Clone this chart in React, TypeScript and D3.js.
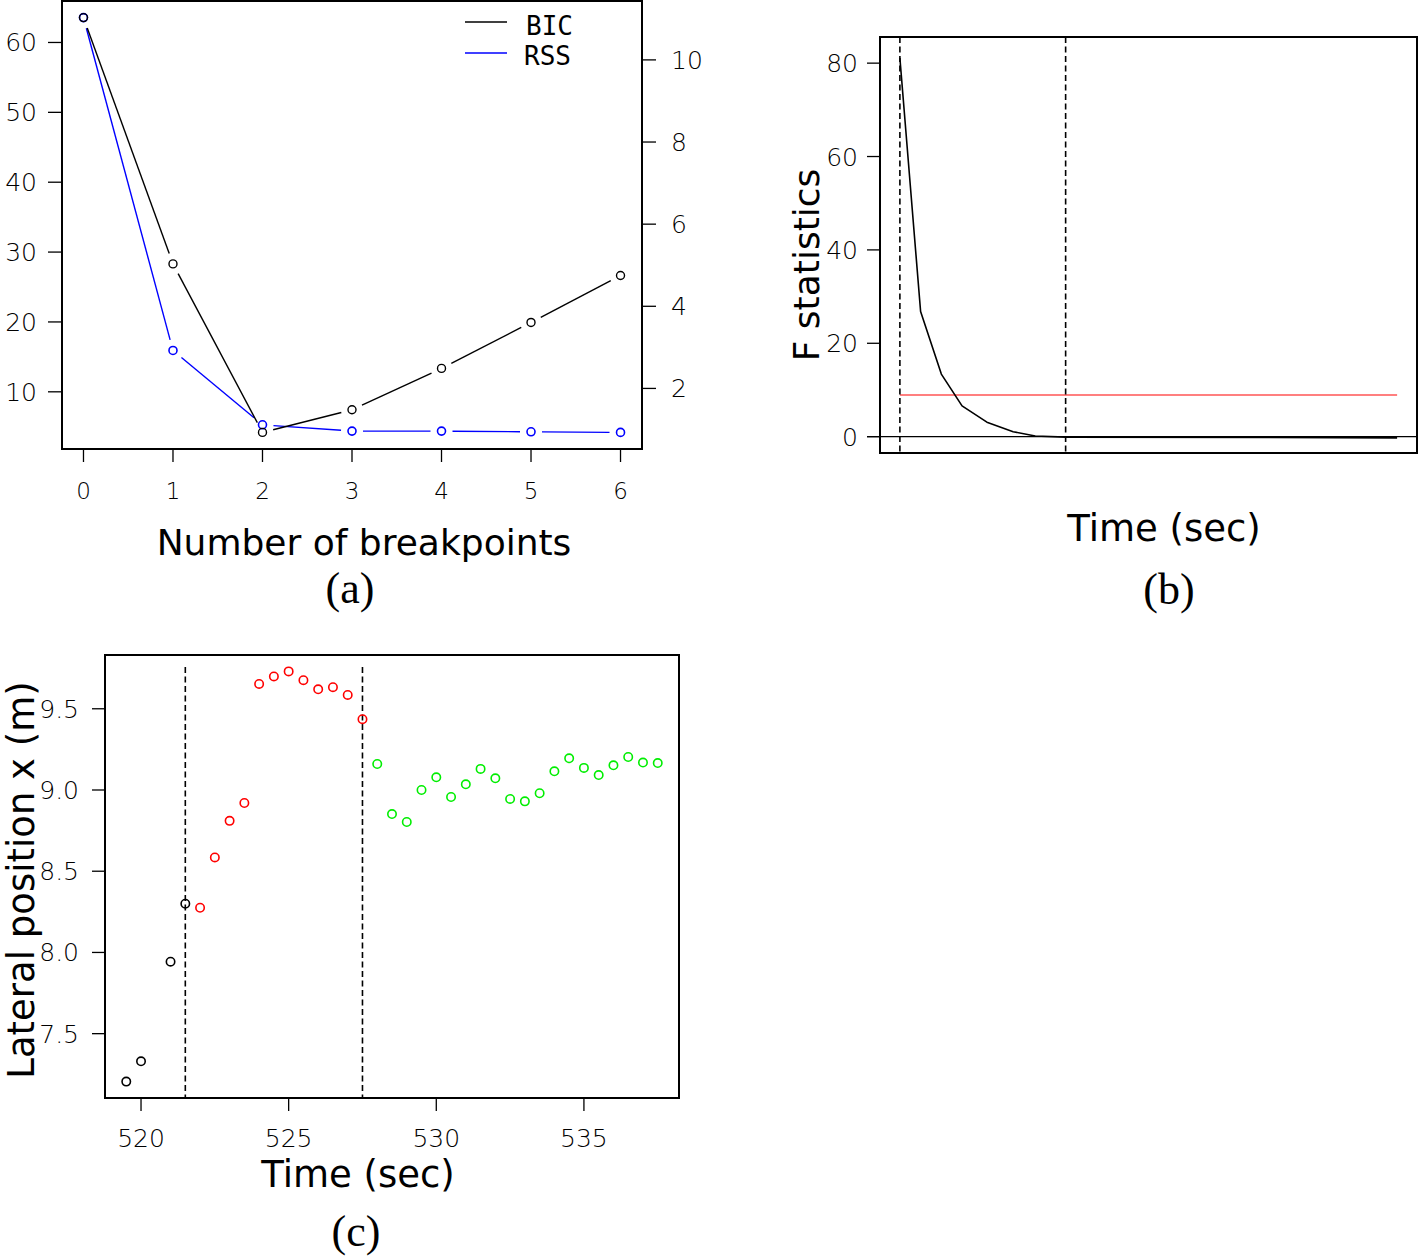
import React from "react";
import * as d3 from "d3";

// ---------- Panel (a): breakpoints ----------
const breakpoints = [0, 1, 2, 3, 4, 5, 6];
const bicValues = [63.56, 28.31, 4.19, 7.43, 13.35, 19.93, 26.65];
const rssValues = [11.03, 2.925, 1.114, 0.961, 0.961, 0.944, 0.929];
const leftTicksA = [10, 20, 30, 40, 50, 60];
const rightTicksA = [2, 4, 6, 8, 10];
const legendLabels = ["BIC", "RSS"];

// ---------- Panel (b): F statistics ----------
const fTimes = [521.5, 522.25, 523.0, 523.75, 524.65, 525.6, 526.4, 527.5, 539.5];
const fValues = [81.1, 26.8, 13.4, 6.6, 3.1, 1.07, 0.15, -0.1, -0.25];
const fThreshold = 8.94;
const fTicks = [0, 20, 40, 60, 80];
const fYDomain = [-3.5, 85.6];
const breakTimes = [521.5, 527.5];

// ---------- Panel (c): lateral position ----------
const lateralTimes = [
  519.5, 520.0, 521.0, 521.5,
  522.0, 522.5, 523.0, 523.5, 524.0, 524.5, 525.0, 525.5, 526.0, 526.5, 527.0, 527.5,
  528.0, 528.5, 529.0, 529.5, 530.0, 530.5, 531.0, 531.5, 532.0, 532.5, 533.0, 533.5,
  534.0, 534.5, 535.0, 535.5, 536.0, 536.5, 537.0, 537.5,
];
const lateralValues = [
  7.205, 7.33, 7.943, 8.3,
  8.275, 8.585, 8.81, 8.92, 9.653, 9.699, 9.73, 9.676, 9.62, 9.633, 9.585, 9.436,
  9.16, 8.852, 8.803, 9.0, 9.078, 8.957, 9.035, 9.13, 9.072, 8.945, 8.93, 8.98,
  9.115, 9.195, 9.136, 9.092, 9.152, 9.203, 9.169, 9.166,
];
const lateralXTicks = [520, 525, 530, 535];
const lateralYTicks = [7.5, 8.0, 8.5, 9.0, 9.5];
const segmentColors = ["#000000", "#ff0000", "#00ee00"];

const TICK_FONT = "'DejaVu Sans', sans-serif";
const TITLE_FONT = "'DejaVu Sans', Verdana, sans-serif";
const SERIF_FONT = "'Liberation Serif', 'Times New Roman', serif";

function padExtent(vals: number[]): [number, number] {
  const [lo, hi] = d3.extent(vals) as [number, number];
  const p = (hi - lo) * 0.04;
  return [lo - p, hi + p];
}

// line segments with gaps around points (R type="b")
function gappedSegments(pts: [number, number][], gap: number) {
  const segs: { x1: number; y1: number; x2: number; y2: number }[] = [];
  for (let i = 0; i < pts.length - 1; i++) {
    const [ax, ay] = pts[i];
    const [bx, by] = pts[i + 1];
    const dx = bx - ax, dy = by - ay;
    const len = Math.hypot(dx, dy);
    if (len <= 2 * gap) continue;
    const ux = dx / len, uy = dy / len;
    segs.push({ x1: ax + ux * gap, y1: ay + uy * gap, x2: bx - ux * gap, y2: by - uy * gap });
  }
  return segs;
}

function PanelA() {
  const L = 62, R = 642, T = 1, B = 449;
  const x = d3.scaleLinear().domain(padExtent(breakpoints)).range([L, R]);
  const yL = d3.scaleLinear().domain(padExtent(bicValues)).range([B, T]);
  const yR = d3.scaleLinear().domain(padExtent(rssValues)).range([B, T]);
  const bicPts = breakpoints.map((b, i) => [x(b), yL(bicValues[i])] as [number, number]);
  const rssPts = breakpoints.map((b, i) => [x(b), yR(rssValues[i])] as [number, number]);
  const gap = 11;
  return (
    <g>
      {gappedSegments(rssPts, gap).map((s, i) => (
        <line key={"rl" + i} {...s} stroke="#0000ff" strokeWidth={1.4} />
      ))}
      {gappedSegments(bicPts, gap).map((s, i) => (
        <line key={"bl" + i} {...s} stroke="#000" strokeWidth={1.4} />
      ))}
      {rssPts.map(([cx, cy], i) => (
        <circle key={"rc" + i} cx={cx} cy={cy} r={4} fill="none" stroke="#0000ff" strokeWidth={1.6} />
      ))}
      {bicPts.map(([cx, cy], i) => (
        <circle key={"bc" + i} cx={cx} cy={cy} r={4} fill="none" stroke="#000" strokeWidth={1.4} />
      ))}
      <rect x={L} y={T} width={R - L} height={B - T} fill="none" stroke="#000" strokeWidth={2} />
      {/* x axis */}
      {breakpoints.map((b) => (
        <g key={"xt" + b}>
          <line x1={x(b)} x2={x(b)} y1={B} y2={B + 13} stroke="#000" strokeWidth={1.3} />
          <text x={x(b)} y={499} textAnchor="middle" fontFamily={TICK_FONT} fontWeight={200} fontSize={23}>
            {b}
          </text>
        </g>
      ))}
      {/* left axis */}
      {leftTicksA.map((v) => (
        <g key={"lt" + v}>
          <line x1={L - 14} x2={L} y1={yL(v)} y2={yL(v)} stroke="#000" strokeWidth={1.3} />
          <text x={37} y={yL(v)} dy="0.36em" textAnchor="end" fontFamily={TICK_FONT} fontWeight={200} fontSize={25}>
            {v}
          </text>
        </g>
      ))}
      {/* right axis */}
      {rightTicksA.map((v) => (
        <g key={"rt" + v}>
          <line x1={R} x2={R + 14} y1={yR(v)} y2={yR(v)} stroke="#000" strokeWidth={1.3} />
          <text x={671} y={yR(v)} dy="0.36em" textAnchor="start" fontFamily={TICK_FONT} fontWeight={200} fontSize={25}>
            {v}
          </text>
        </g>
      ))}
      {/* legend */}
      <line x1={465} x2={507} y1={22} y2={22} stroke="#000" strokeWidth={1.4} />
      <line x1={465} x2={507} y1={53} y2={53} stroke="#0000ff" strokeWidth={1.4} />
      <text x={526} y={35} fontFamily="'DejaVu Sans Mono', monospace" fontWeight={200} fontSize={26}>
        {legendLabels[0]}
      </text>
      <text x={524} y={65} fontFamily="'DejaVu Sans Mono', monospace" fontWeight={200} fontSize={26}>
        {legendLabels[1]}
      </text>
      <text x={364} y={555} textAnchor="middle" fontFamily={TITLE_FONT} fontSize={36}>
        Number of breakpoints
      </text>
      <text x={350} y={603} textAnchor="middle" fontFamily={SERIF_FONT} fontSize={44}>
        (a)
      </text>
    </g>
  );
}

function PanelB() {
  const L = 880, R = 1417, T = 37, B = 453;
  const x = d3.scaleLinear().domain(padExtent(fTimes)).range([L, R]);
  const y = d3.scaleLinear().domain(fYDomain).range([B, T]);
  const line = d3
    .line<number>()
    .x((_, i) => x(fTimes[i]))
    .y((d) => y(d));
  const [t0, t1] = d3.extent(fTimes) as [number, number];
  return (
    <g>
      <line x1={867} x2={R} y1={y(0)} y2={y(0)} stroke="#000" strokeWidth={1.3} />
      <line x1={x(t0)} x2={x(t1)} y1={y(fThreshold)} y2={y(fThreshold)} stroke="#ff7f7f" strokeWidth={2} />
      <path d={line(fValues) || ""} fill="none" stroke="#000" strokeWidth={1.6} strokeLinejoin="round" />
      {breakTimes.map((t) => (
        <line key={"bd" + t} x1={x(t)} x2={x(t)} y1={T} y2={B} stroke="#000" strokeWidth={1.6} strokeDasharray="6,3.5" />
      ))}
      <rect x={L} y={T} width={R - L} height={B - T} fill="none" stroke="#000" strokeWidth={2} />
      {fTicks.map((v) => (
        <g key={"ft" + v}>
          <line x1={L - 13} x2={L} y1={y(v)} y2={y(v)} stroke="#000" strokeWidth={1.3} />
          <text x={858} y={y(v)} dy="0.36em" textAnchor="end" fontFamily={TICK_FONT} fontWeight={200} fontSize={25}>
            {v}
          </text>
        </g>
      ))}
      <text
        transform={`translate(819, 265) rotate(-90)`}
        textAnchor="middle"
        fontFamily={TITLE_FONT}
        fontSize={36}
      >
        F statistics
      </text>
      <text x={1164} y={541} textAnchor="middle" fontFamily={TITLE_FONT} fontSize={37}>
        Time (sec)
      </text>
      <text x={1169} y={604} textAnchor="middle" fontFamily={SERIF_FONT} fontSize={44}>
        (b)
      </text>
    </g>
  );
}

function PanelC() {
  const L = 105, R = 679, T = 655, B = 1098;
  const x = d3.scaleLinear().domain(padExtent(lateralTimes)).range([L, R]);
  const y = d3.scaleLinear().domain(padExtent(lateralValues)).range([B, T]);
  const segOf = (t: number) => breakTimes.filter((b) => t > b).length;
  const fmt = d3.format(".1f");
  return (
    <g>
      {breakTimes.map((t) => (
        <line key={"cd" + t} x1={x(t)} x2={x(t)} y1={667} y2={B} stroke="#000" strokeWidth={1.6} strokeDasharray="6,3.5" />
      ))}
      {lateralTimes.map((t, i) => (
        <circle
          key={"p" + i}
          cx={x(t)}
          cy={y(lateralValues[i])}
          r={4.2}
          fill="none"
          stroke={segmentColors[segOf(t)]}
          strokeWidth={1.6}
        />
      ))}
      <rect x={L} y={T} width={R - L} height={B - T} fill="none" stroke="#000" strokeWidth={2} />
      {lateralXTicks.map((v) => (
        <g key={"cx" + v}>
          <line x1={x(v)} x2={x(v)} y1={B} y2={B + 13} stroke="#000" strokeWidth={1.3} />
          <text x={x(v)} y={1147} textAnchor="middle" fontFamily={TICK_FONT} fontWeight={200} fontSize={25}>
            {v}
          </text>
        </g>
      ))}
      {lateralYTicks.map((v) => (
        <g key={"cy" + v}>
          <line x1={L - 13} x2={L} y1={y(v)} y2={y(v)} stroke="#000" strokeWidth={1.3} />
          <text x={79} y={y(v)} dy="0.36em" textAnchor="end" fontFamily={TICK_FONT} fontWeight={200} fontSize={25}>
            {fmt(v)}
          </text>
        </g>
      ))}
      <text
        transform={`translate(34, 880) rotate(-90)`}
        textAnchor="middle"
        fontFamily={TITLE_FONT}
        fontSize={37}
      >
        Lateral position x (m)
      </text>
      <text x={358} y={1187} textAnchor="middle" fontFamily={TITLE_FONT} fontSize={37}>
        Time (sec)
      </text>
      <text x={356} y={1246} textAnchor="middle" fontFamily={SERIF_FONT} fontSize={44}>
        (c)
      </text>
    </g>
  );
}

export default function App() {
  return (
    <svg
      width={1418}
      height={1258}
      viewBox="0 0 1418 1258"
      style={{ position: "absolute", left: 0, top: 0, background: "#fff" }}
    >
      <rect x={0} y={0} width={1418} height={1258} fill="#fff" />
      <PanelA />
      <PanelB />
      <PanelC />
    </svg>
  );
}
